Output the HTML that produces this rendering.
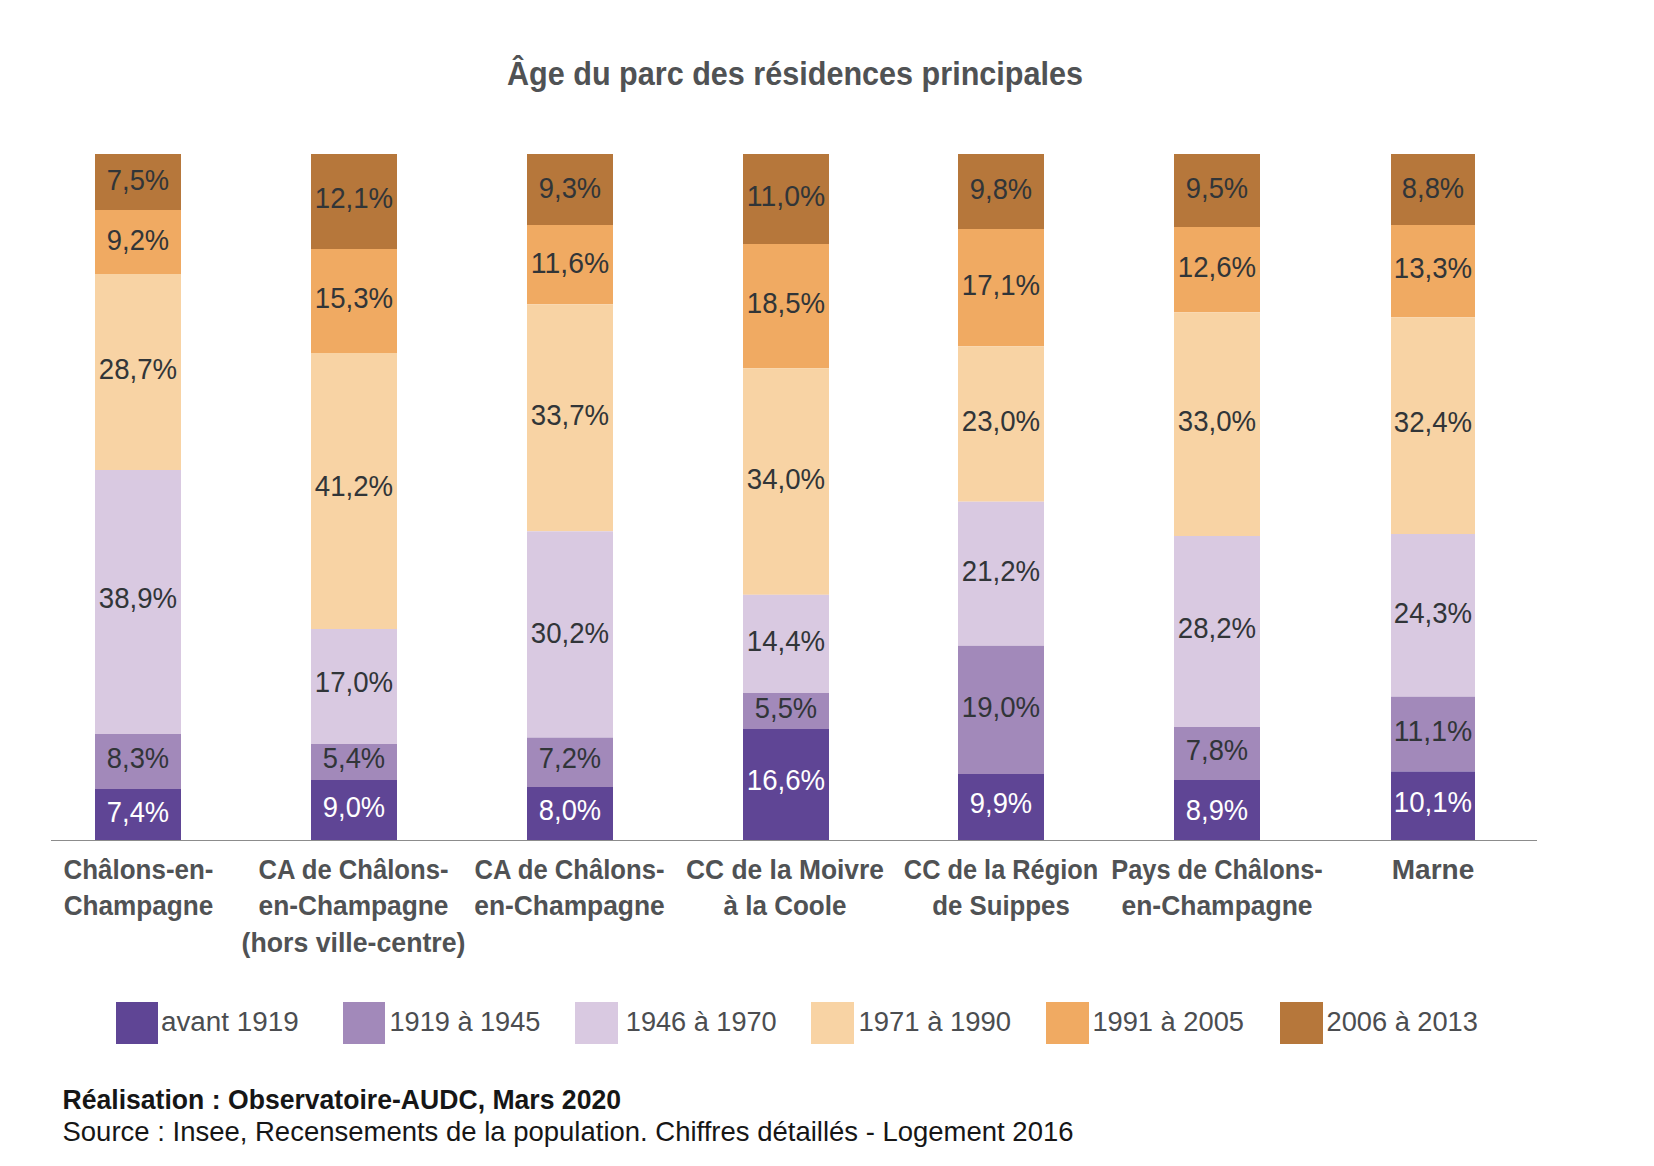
<!DOCTYPE html>
<html lang="fr"><head><meta charset="utf-8"><title>Âge du parc des résidences principales</title>
<style>html,body{margin:0;padding:0;background:#fff}body{width:1654px;height:1166px;overflow:hidden}svg{display:block}
text{font-family:"Liberation Sans",sans-serif}
.dl{font-size:29px;fill:#313538;text-anchor:middle}.dlw{fill:#fff}
.cat{font-size:28px;font-weight:bold;fill:#505254}
.ttl{font-size:32.5px;font-weight:bold;fill:#505254}
.lg{font-size:28.4px;fill:#4b4d50}
.ft{font-size:27.5px;fill:#161616}.ftb{font-weight:bold}
</style></head><body>
<svg width="1654" height="1166" viewBox="0 0 1654 1166">
<rect x="0" y="0" width="1654" height="1166" fill="#ffffff"/>
<text class="ttl" x="507" y="84.9" textLength="576" lengthAdjust="spacingAndGlyphs">Âge du parc des résidences principales</text>
<g>
<rect x="95" y="154" width="86" height="56" fill="#b6773b"/>
<rect x="95" y="210" width="86" height="64" fill="#f0aa62"/>
<rect x="95" y="274" width="86" height="196" fill="#f8d3a4"/>
<rect x="95" y="470" width="86" height="264" fill="#d9c9e1"/>
<rect x="95" y="734" width="86" height="55" fill="#a289ba"/>
<rect x="95" y="789" width="86" height="51" fill="#5f4595"/>
<text class="dl" x="138" y="190.3" textLength="62.3" lengthAdjust="spacingAndGlyphs">7,5%</text>
<text class="dl" x="138" y="249.7" textLength="62.3" lengthAdjust="spacingAndGlyphs">9,2%</text>
<text class="dl" x="138" y="378.7" textLength="78.3" lengthAdjust="spacingAndGlyphs">28,7%</text>
<text class="dl" x="138" y="608" textLength="78.3" lengthAdjust="spacingAndGlyphs">38,9%</text>
<text class="dl" x="138" y="767.5" textLength="62.3" lengthAdjust="spacingAndGlyphs">8,3%</text>
<text class="dl dlw" x="138" y="821.5" textLength="62.3" lengthAdjust="spacingAndGlyphs">7,4%</text>
</g>
<g>
<rect x="311" y="154" width="86" height="95" fill="#b6773b"/>
<rect x="311" y="249" width="86" height="104" fill="#f0aa62"/>
<rect x="311" y="353" width="86" height="276" fill="#f8d3a4"/>
<rect x="311" y="629" width="86" height="115" fill="#d9c9e1"/>
<rect x="311" y="744" width="86" height="36" fill="#a289ba"/>
<rect x="311" y="780" width="86" height="60" fill="#5f4595"/>
<text class="dl" x="354" y="208.2" textLength="78.3" lengthAdjust="spacingAndGlyphs">12,1%</text>
<text class="dl" x="354" y="307.7" textLength="78.3" lengthAdjust="spacingAndGlyphs">15,3%</text>
<text class="dl" x="354" y="496.3" textLength="78.3" lengthAdjust="spacingAndGlyphs">41,2%</text>
<text class="dl" x="354" y="691.8" textLength="78.3" lengthAdjust="spacingAndGlyphs">17,0%</text>
<text class="dl" x="354" y="768" textLength="62.3" lengthAdjust="spacingAndGlyphs">5,4%</text>
<text class="dl dlw" x="354" y="817" textLength="62.3" lengthAdjust="spacingAndGlyphs">9,0%</text>
</g>
<g>
<rect x="527" y="154" width="86" height="71" fill="#b6773b"/>
<rect x="527" y="225" width="86" height="79.3" fill="#f0aa62"/>
<rect x="527" y="304.3" width="86" height="227" fill="#f8d3a4"/>
<rect x="527" y="531.3" width="86" height="206.3" fill="#d9c9e1"/>
<rect x="527" y="737.6" width="86" height="49.4" fill="#a289ba"/>
<rect x="527" y="787" width="86" height="53" fill="#5f4595"/>
<text class="dl" x="570" y="197.8" textLength="62.3" lengthAdjust="spacingAndGlyphs">9,3%</text>
<text class="dl" x="570" y="273.15" textLength="78.3" lengthAdjust="spacingAndGlyphs">11,6%</text>
<text class="dl" x="570" y="424.5" textLength="78.3" lengthAdjust="spacingAndGlyphs">33,7%</text>
<text class="dl" x="570" y="643.45" textLength="78.3" lengthAdjust="spacingAndGlyphs">30,2%</text>
<text class="dl" x="570" y="768.3" textLength="62.3" lengthAdjust="spacingAndGlyphs">7,2%</text>
<text class="dl dlw" x="570" y="820" textLength="62.3" lengthAdjust="spacingAndGlyphs">8,0%</text>
</g>
<g>
<rect x="743" y="154" width="86" height="90" fill="#b6773b"/>
<rect x="743" y="244" width="86" height="124.2" fill="#f0aa62"/>
<rect x="743" y="368.2" width="86" height="226.6" fill="#f8d3a4"/>
<rect x="743" y="594.8" width="86" height="98.2" fill="#d9c9e1"/>
<rect x="743" y="693" width="86" height="36" fill="#a289ba"/>
<rect x="743" y="729" width="86" height="111" fill="#5f4595"/>
<text class="dl" x="786" y="206" textLength="78.3" lengthAdjust="spacingAndGlyphs">11,0%</text>
<text class="dl" x="786" y="313.1" textLength="78.3" lengthAdjust="spacingAndGlyphs">18,5%</text>
<text class="dl" x="786" y="488.5" textLength="78.3" lengthAdjust="spacingAndGlyphs">34,0%</text>
<text class="dl" x="786" y="650.9" textLength="78.3" lengthAdjust="spacingAndGlyphs">14,4%</text>
<text class="dl" x="786" y="718" textLength="62.3" lengthAdjust="spacingAndGlyphs">5,5%</text>
<text class="dl dlw" x="786" y="789.8" textLength="78.3" lengthAdjust="spacingAndGlyphs">16,6%</text>
</g>
<g>
<rect x="958" y="154" width="86" height="75" fill="#b6773b"/>
<rect x="958" y="229" width="86" height="117.3" fill="#f0aa62"/>
<rect x="958" y="346.3" width="86" height="155.4" fill="#f8d3a4"/>
<rect x="958" y="501.7" width="86" height="144.1" fill="#d9c9e1"/>
<rect x="958" y="645.8" width="86" height="128.2" fill="#a289ba"/>
<rect x="958" y="774" width="86" height="66" fill="#5f4595"/>
<text class="dl" x="1001" y="199.2" textLength="62.3" lengthAdjust="spacingAndGlyphs">9,8%</text>
<text class="dl" x="1001" y="295.35" textLength="78.3" lengthAdjust="spacingAndGlyphs">17,1%</text>
<text class="dl" x="1001" y="431" textLength="78.3" lengthAdjust="spacingAndGlyphs">23,0%</text>
<text class="dl" x="1001" y="580.75" textLength="78.3" lengthAdjust="spacingAndGlyphs">21,2%</text>
<text class="dl" x="1001" y="716.6" textLength="78.3" lengthAdjust="spacingAndGlyphs">19,0%</text>
<text class="dl dlw" x="1001" y="813" textLength="62.3" lengthAdjust="spacingAndGlyphs">9,9%</text>
</g>
<g>
<rect x="1174" y="154" width="86" height="73" fill="#b6773b"/>
<rect x="1174" y="227" width="86" height="85.3" fill="#f0aa62"/>
<rect x="1174" y="312.3" width="86" height="223.7" fill="#f8d3a4"/>
<rect x="1174" y="536" width="86" height="191" fill="#d9c9e1"/>
<rect x="1174" y="727" width="86" height="53" fill="#a289ba"/>
<rect x="1174" y="780" width="86" height="60" fill="#5f4595"/>
<text class="dl" x="1217" y="197.5" textLength="62.3" lengthAdjust="spacingAndGlyphs">9,5%</text>
<text class="dl" x="1217" y="277.35" textLength="78.3" lengthAdjust="spacingAndGlyphs">12,6%</text>
<text class="dl" x="1217" y="431.15" textLength="78.3" lengthAdjust="spacingAndGlyphs">33,0%</text>
<text class="dl" x="1217" y="637.5" textLength="78.3" lengthAdjust="spacingAndGlyphs">28,2%</text>
<text class="dl" x="1217" y="759.5" textLength="62.3" lengthAdjust="spacingAndGlyphs">7,8%</text>
<text class="dl dlw" x="1217" y="819.7" textLength="62.3" lengthAdjust="spacingAndGlyphs">8,9%</text>
</g>
<g>
<rect x="1391" y="154" width="84" height="71" fill="#b6773b"/>
<rect x="1391" y="225" width="84" height="92.3" fill="#f0aa62"/>
<rect x="1391" y="317.3" width="84" height="216.7" fill="#f8d3a4"/>
<rect x="1391" y="534" width="84" height="162.7" fill="#d9c9e1"/>
<rect x="1391" y="696.7" width="84" height="74.8" fill="#a289ba"/>
<rect x="1391" y="771.5" width="84" height="68.5" fill="#5f4595"/>
<text class="dl" x="1433" y="197.8" textLength="62.3" lengthAdjust="spacingAndGlyphs">8,8%</text>
<text class="dl" x="1433" y="277.85" textLength="78.3" lengthAdjust="spacingAndGlyphs">13,3%</text>
<text class="dl" x="1433" y="432.35" textLength="78.3" lengthAdjust="spacingAndGlyphs">32,4%</text>
<text class="dl" x="1433" y="623.35" textLength="78.3" lengthAdjust="spacingAndGlyphs">24,3%</text>
<text class="dl" x="1433" y="741.1" textLength="78.3" lengthAdjust="spacingAndGlyphs">11,1%</text>
<text class="dl dlw" x="1433" y="812.05" textLength="78.3" lengthAdjust="spacingAndGlyphs">10,1%</text>
</g>
<rect x="51" y="840" width="1486" height="1" fill="#8c8c8c"/>
<text class="cat" x="63.5" y="878.8" textLength="150" lengthAdjust="spacingAndGlyphs">Châlons-en-</text>
<text class="cat" x="63.7" y="915.3" textLength="149.6" lengthAdjust="spacingAndGlyphs">Champagne</text>
<text class="cat" x="258.5" y="878.8" textLength="190" lengthAdjust="spacingAndGlyphs">CA de Châlons-</text>
<text class="cat" x="258.5" y="915.3" textLength="190" lengthAdjust="spacingAndGlyphs">en-Champagne</text>
<text class="cat" x="241.5" y="951.8" textLength="224" lengthAdjust="spacingAndGlyphs">(hors ville-centre)</text>
<text class="cat" x="474.5" y="878.8" textLength="190" lengthAdjust="spacingAndGlyphs">CA de Châlons-</text>
<text class="cat" x="474.25" y="915.3" textLength="190.5" lengthAdjust="spacingAndGlyphs">en-Champagne</text>
<text class="cat" x="686" y="878.8" textLength="198" lengthAdjust="spacingAndGlyphs">CC de la Moivre</text>
<text class="cat" x="723.6" y="915.3" textLength="122.8" lengthAdjust="spacingAndGlyphs">à la Coole</text>
<text class="cat" x="903.85" y="878.8" textLength="194.3" lengthAdjust="spacingAndGlyphs">CC de la Région</text>
<text class="cat" x="932.15" y="915.3" textLength="137.7" lengthAdjust="spacingAndGlyphs">de Suippes</text>
<text class="cat" x="1111.25" y="878.8" textLength="211.5" lengthAdjust="spacingAndGlyphs">Pays de Châlons-</text>
<text class="cat" x="1121.5" y="915.3" textLength="191" lengthAdjust="spacingAndGlyphs">en-Champagne</text>
<text class="cat" x="1391.75" y="878.8" textLength="82.5" lengthAdjust="spacingAndGlyphs">Marne</text>
<rect x="116" y="1002" width="42" height="42" fill="#5f4595"/>
<text class="lg" x="161" y="1030.5" textLength="137.6" lengthAdjust="spacingAndGlyphs">avant 1919</text>
<rect x="343" y="1002" width="42" height="42" fill="#a289ba"/>
<text class="lg" x="389.5" y="1030.5" textLength="150.9" lengthAdjust="spacingAndGlyphs">1919 à 1945</text>
<rect x="575" y="1002" width="43" height="42" fill="#d9c9e1"/>
<text class="lg" x="625.8" y="1030.5" textLength="150.9" lengthAdjust="spacingAndGlyphs">1946 à 1970</text>
<rect x="811" y="1002" width="43" height="42" fill="#f8d3a4"/>
<text class="lg" x="858.5" y="1030.5" textLength="152.6" lengthAdjust="spacingAndGlyphs">1971 à 1990</text>
<rect x="1046" y="1002" width="43" height="42" fill="#f0aa62"/>
<text class="lg" x="1092.4" y="1030.5" textLength="151.6" lengthAdjust="spacingAndGlyphs">1991 à 2005</text>
<rect x="1280" y="1002" width="43" height="42" fill="#b6773b"/>
<text class="lg" x="1326.5" y="1030.5" textLength="151.4" lengthAdjust="spacingAndGlyphs">2006 à 2013</text>
<text class="ft ftb" x="62.5" y="1109.3" textLength="558.5" lengthAdjust="spacingAndGlyphs">Réalisation : Observatoire-AUDC, Mars 2020</text>
<text class="ft" x="62.5" y="1140.7" textLength="1011" lengthAdjust="spacingAndGlyphs">Source : Insee, Recensements de la population. Chiffres détaillés - Logement 2016</text>
</svg></body></html>
